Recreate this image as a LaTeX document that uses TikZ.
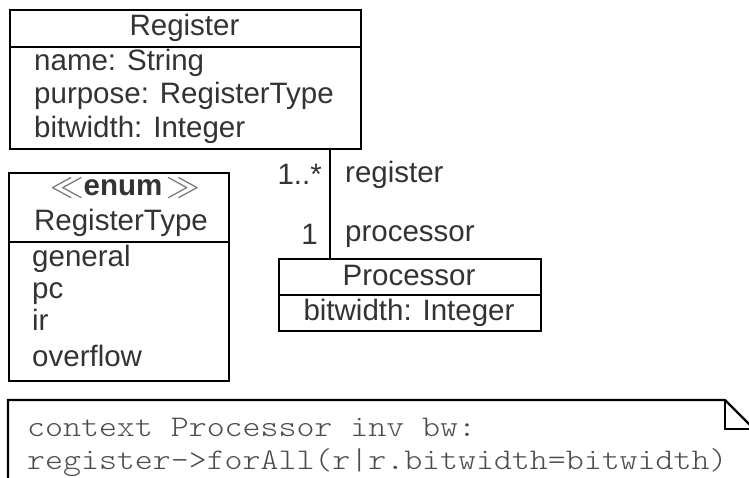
\documentclass[tikz,border=0pt]{standalone}
\usepackage{fontspec}
\usepackage{graphicx}
\setmainfont{Liberation Sans}
\newfontfamily\codefont[FakeStretch=1.14]{Latin Modern Mono Light}
\newcommand{\stereoL}{\raisebox{-0.5pt}{\scalebox{1.35}{$\ll$}}}
\newcommand{\stereoR}{\raisebox{-0.5pt}{\scalebox{1.35}{$\gg$}}}
\begin{document}
\begin{tikzpicture}[x=1pt,y=-1pt,
  box/.style={draw, line width=2.2pt, inner sep=0pt, anchor=north west},
  txt/.style={inner sep=0pt, font=\fontsize{29.5}{34}\selectfont, text=black!80},
  lt/.style={txt, anchor=base west},
  ct/.style={txt, anchor=base},
  rt/.style={txt, anchor=base east},
  code/.style={inner sep=0pt, anchor=base west, font=\fontsize{30}{34}\codefont, text=black!70},
  edge/.style={line width=2.2pt}]
\useasboundingbox (0,0) rectangle (749,478);
\clip (0,0) rectangle (749,478);
% Register
\node[box, minimum width=351pt, minimum height=37pt] (regH) at (9,9) {};
\node[box, minimum width=351pt, minimum height=102pt] (regA) at (9,46) {};
\node[ct] (regN) at (184.5,36) {Register};
\node[lt] (regA1) at (34,71) {name: String};
\node[lt] (regA2) at (34,104) {purpose: RegisterType};
\node[lt] (regA3) at (34,138) {bitwidth: Integer};
% RegisterType
\node[box, minimum width=220pt, minimum height=69pt] (rtH) at (8,172) {};
\node[box, minimum width=220pt, minimum height=139pt] (rtA) at (8,241) {};
\node[ct] (rtS) at (125,196) {{\color{black!55}\stereoL}\textbf{enum}\kern4pt{\color{black!55}\stereoR}};
\node[ct] (rtN) at (121,231) {RegisterType};
\node[lt] (rt1) at (32,266) {general};
\node[lt] (rt2) at (32,298) {pc};
\node[lt] (rt3) at (32,330) {ir};
\node[lt] (rt4) at (32,366) {overflow};
% Processor
\node[box, minimum width=262pt, minimum height=36pt] (prH) at (278,258) {};
\node[box, minimum width=262pt, minimum height=36pt] (prA) at (278,294) {};
\node[ct] (prN) at (409,285) {Processor};
\node[ct] (prA1) at (409,320) {bitwidth: Integer};
% association
\coordinate (aTop) at (330,148);
\coordinate (aBot) at (330,258);
\draw[edge] (aTop) -- (aBot);
\node[rt] (m1) at (322,185) {1..*};
\node[lt] (r1) at (345,183) {register};
\node[rt] (m2) at (318,245) {1};
\node[lt] (r2) at (345,242) {processor};
% note
\coordinate (nBL) at (8,500);
\coordinate (nTL) at (8,400);
\coordinate (nF) at (725,400);
\coordinate (nR) at (754,429);
\coordinate (nFc) at (725,429);
\coordinate (nBR) at (754,500);
\draw[edge] (nBL) -- (nTL) -- (nF) -- (nR) -- (nBR);
\draw[edge] (nF) -- (nFc) -- (nR);
\node[code] (c1) at (27,436) {context Processor inv bw:};
\node[code] (c2) at (27,469) {register->forAll(r|r.bitwidth=bitwidth)};
\end{tikzpicture}
\end{document}
